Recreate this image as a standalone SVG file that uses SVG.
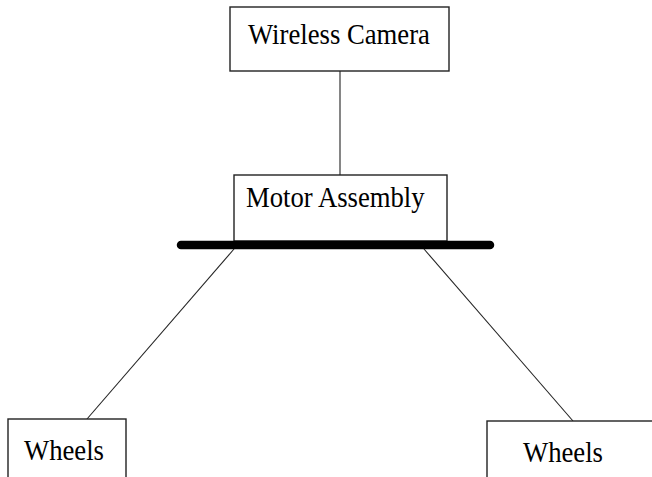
<svg xmlns="http://www.w3.org/2000/svg" width="652" height="477" viewBox="0 0 652 477">
<style>
.box{fill:#fff;stroke:#222;stroke-width:1.4}
.lbl{font-family:"Liberation Serif","Times New Roman",serif;font-size:26.7px;fill:#000}
.ln{stroke:#222;stroke-width:1.1;fill:none}
</style>
<rect width="652" height="477" fill="#fff"/>
<g id="connectors">
<line class="ln" x1="340" y1="71" x2="340" y2="175"/>
<line class="ln" x1="234" y1="249" x2="87" y2="419"/>
<line class="ln" x1="424" y1="249" x2="573" y2="421"/>
</g>
<g id="camera">
<rect class="box" x="230" y="7" width="219" height="64"/>
<text class="lbl" transform="translate(248,43.7) scale(1,1.1)">Wireless Camera</text>
</g>
<g id="motor">
<rect class="box" x="234" y="175" width="213" height="66"/>
<text class="lbl" transform="translate(246,206.7) scale(1,1.1)">Motor Assembly</text>
</g>
<g id="axle">
<line x1="181" y1="245" x2="490" y2="245" stroke="#000" stroke-width="8.5" stroke-linecap="round"/>
</g>
<g id="wheels-left">
<rect class="box" x="8" y="419" width="118" height="70"/>
<text class="lbl" transform="translate(24,460) scale(1,1.1)">Wheels</text>
</g>
<g id="wheels-right">
<rect class="box" x="487" y="421" width="180" height="70"/>
<text class="lbl" transform="translate(523,461.7) scale(1,1.1)">Wheels</text>
</g>
</svg>
